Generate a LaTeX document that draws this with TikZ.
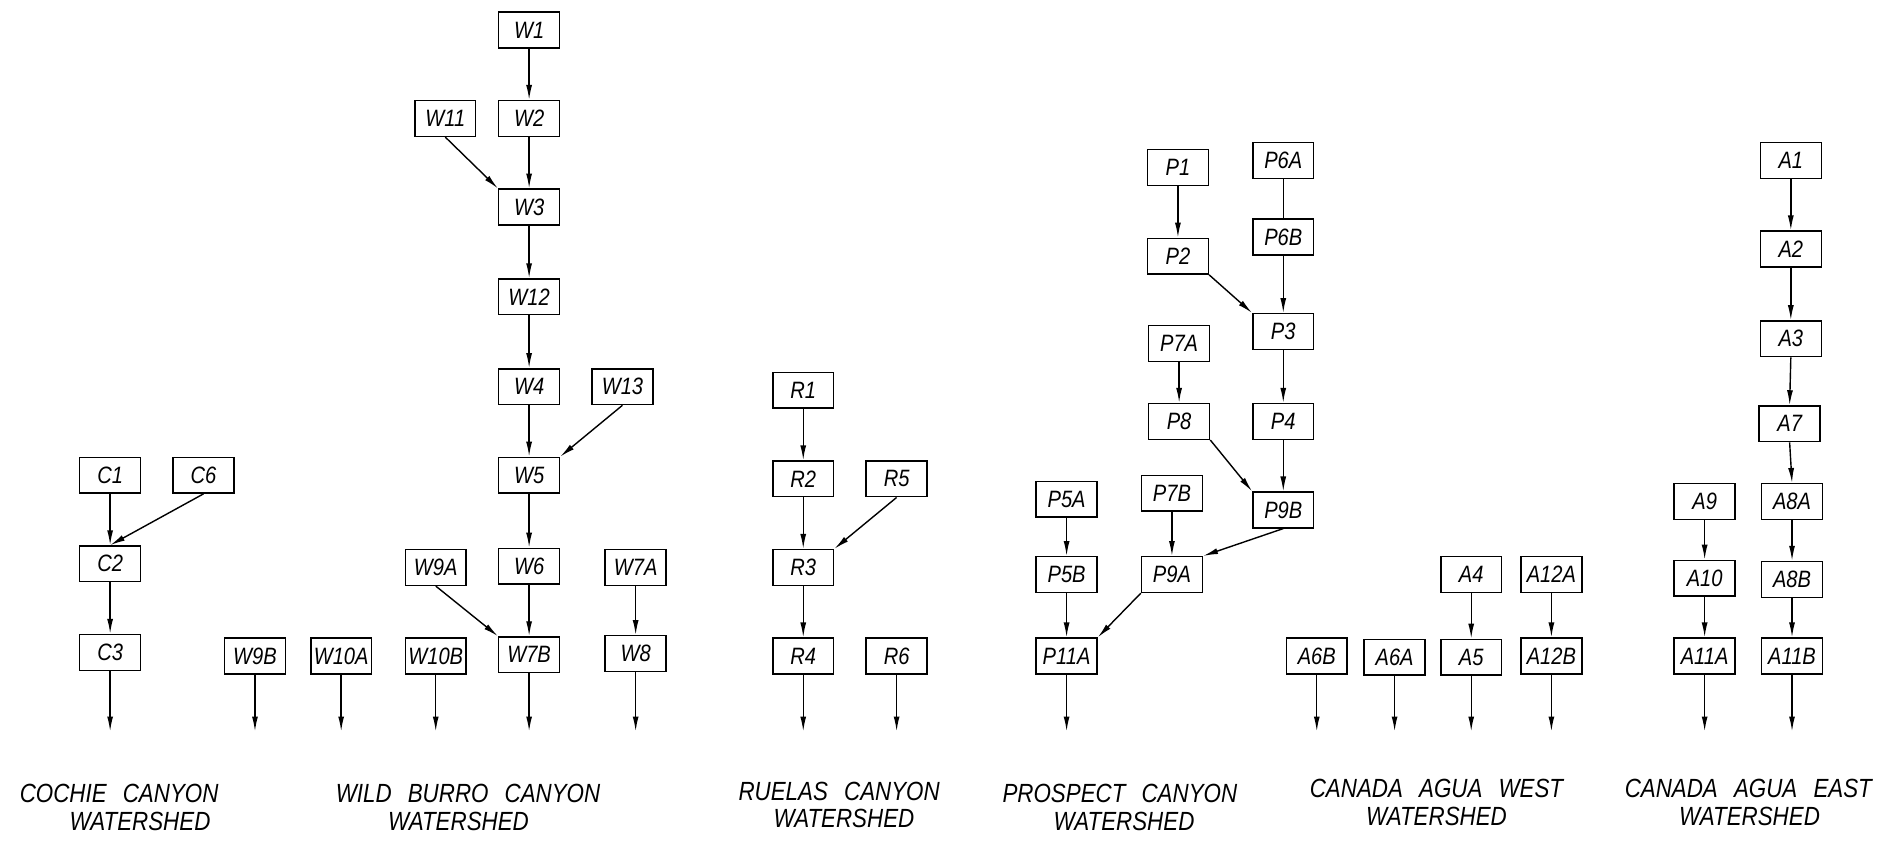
\documentclass[tikz,border=0pt]{standalone}
\usepackage{fontspec}
\usetikzlibrary{arrows.meta}
\newfontfamily\cadfont[FakeStretch=0.85,WordSpace=2.6]{Liberation Sans}
\begin{document}
\begin{tikzpicture}[x=0.024cm,y=-0.024cm,
  bx/.style={draw, line width=0.85pt, minimum width=34.7pt, minimum height=20.4pt, inner sep=0pt,
    font=\cadfont\itshape\fontsize{13.5}{15}\selectfont},
  arr/.style={line width=0.8pt, -{Latex[length=8.5pt,width=3.4pt]}},
  lnk/.style={line width=0.8pt},
  captxt/.style={font=\cadfont\itshape\fontsize{15}{18}\selectfont, inner sep=0pt}]
\useasboundingbox (0,0) rectangle (1568,706);
\coordinate (outlevel) at (0,611);
% Cochie
\node[bx] (C1) at (92,397) {C1};
\node[bx] (C6) at (170,397) {C6};
\node[bx] (C2) at (92,471) {C2};
\node[bx] (C3) at (92,545) {C3};
% Wild Burro
\node[bx] (W1) at (442,25) {W1};
\node[bx] (W2) at (442,99) {W2};
\node[bx] (W11) at (372,99) {W11};
\node[bx] (W3) at (442,173) {W3};
\node[bx] (W12) at (442,248) {W12};
\node[bx] (W4) at (442,323) {W4};
\node[bx] (W13) at (520,323) {W13};
\node[bx] (W5) at (442,397) {W5};
\node[bx] (W6) at (442,473) {W6};
\node[bx] (W9A) at (364,474) {W9A};
\node[bx] (W7A) at (531,474) {W7A};
\node[bx] (W7B) at (442,547) {W7B};
\node[bx] (W8) at (531,546) {W8};
\node[bx] (W9B) at (213,548) {W9B};
\node[bx] (W10A) at (285,548) {W10A};
\node[bx] (W10B) at (364,548) {W10B};
% Ruelas
\node[bx] (R1) at (671,326) {R1};
\node[bx] (R2) at (671,400) {R2};
\node[bx] (R5) at (749,400) {R5};
\node[bx] (R3) at (671,474) {R3};
\node[bx] (R4) at (671,548) {R4};
\node[bx] (R6) at (749,548) {R6};
% Prospect
\node[bx] (P1) at (984,140) {P1};
\node[bx] (P6A) at (1072,134) {P6A};
\node[bx] (P2) at (984,214) {P2};
\node[bx] (P6B) at (1072,198) {P6B};
\node[bx] (P3) at (1072,277) {P3};
\node[bx] (P7A) at (985,287) {P7A};
\node[bx] (P8) at (985,352) {P8};
\node[bx] (P4) at (1072,352) {P4};
\node[bx] (P9B) at (1072,426) {P9B};
\node[bx] (P7B) at (979,412) {P7B};
\node[bx] (P5A) at (891,417) {P5A};
\node[bx] (P9A) at (979,480) {P9A};
\node[bx] (P5B) at (891,480) {P5B};
\node[bx] (P11A) at (891,548) {P11A};
% Canada Agua West
\node[bx] (A6B) at (1100,548) {A6B};
\node[bx] (A6A) at (1165,549) {A6A};
\node[bx] (A4) at (1229,480) {A4};
\node[bx] (A5) at (1229,549) {A5};
\node[bx] (A12A) at (1296,480) {A12A};
\node[bx] (A12B) at (1296,548) {A12B};
% Canada Agua East
\node[bx] (A1) at (1496,134) {A1};
\node[bx] (A2) at (1496,208) {A2};
\node[bx] (A3) at (1496,283) {A3};
\node[bx] (A7) at (1495,354) {A7};
\node[bx] (A9) at (1424,419) {A9};
\node[bx] (A8A) at (1497,419) {A8A};
\node[bx] (A10) at (1424,483) {A10};
\node[bx] (A8B) at (1497,484) {A8B};
\node[bx] (A11A) at (1424,548) {A11A};
\node[bx] (A11B) at (1497,548) {A11B};
% vertical arrows
\foreach \a/\b in {C1/C2,C2/C3,W1/W2,W2/W3,W3/W12,W12/W4,W4/W5,W5/W6,W6/W7B,W7A/W8,
  R1/R2,R2/R3,R3/R4,P1/P2,P6B/P3,P3/P4,P4/P9B,P7A/P8,P7B/P9A,P5A/P5B,P5B/P11A,
  A4/A5,A12A/A12B,A1/A2,A2/A3,A3/A7,A7/A8A,A8A/A8B,A8B/A11B,A9/A10,A10/A11A}
  \draw[arr] (\a.south) -- (\b.north);
\draw[lnk] (P6A.south) -- (P6B.north);
% diagonal arrows
\draw[arr] (C6.south) -- (C2.north);
\draw[arr] (W11.south) -- (W3.north west);
\draw[arr] (W13.south) -- (W5.north east);
\draw[arr] (W9A.south) -- (W7B.north west);
\draw[arr] (R5.south) -- (R3.north east);
\draw[arr] (P2.south east) -- (P3.north west);
\draw[arr] (P8.south east) -- (P9B.north west);
\draw[arr] (P9B.south) -- (P9A.north east);
\draw[arr] (P9A.south west) -- (P11A.north east);
% outlets
\foreach \n in {C3,W9B,W10A,W10B,W7B,W8,R4,R6,P11A,A6B,A6A,A5,A12B,A11A,A11B}
  \draw[arr] (\n.south) -- (\n.south |- outlevel);
% captions
\node[captxt] (cc1) at (99.5,663) {COCHIE CANYON};
\node[captxt] (cc2) at (117,686) {WATERSHED};
\node[captxt] (wb1) at (391,663) {WILD BURRO CANYON};
\node[captxt] (wb2) at (383,686) {WATERSHED};
\node[captxt] (ru1) at (701,661) {RUELAS CANYON};
\node[captxt] (ru2) at (705,684) {WATERSHED};
\node[captxt] (pr1) at (935.5,663) {PROSPECT CANYON};
\node[captxt] (pr2) at (939,686) {WATERSHED};
\node[captxt] (aw1) at (1200,659) {CANADA AGUA WEST};
\node[captxt] (aw2) at (1200,682) {WATERSHED};
\node[captxt] (ae1) at (1460.5,659) {CANADA AGUA EAST};
\node[captxt] (ae2) at (1461.5,682) {WATERSHED};
\end{tikzpicture}
\end{document}
